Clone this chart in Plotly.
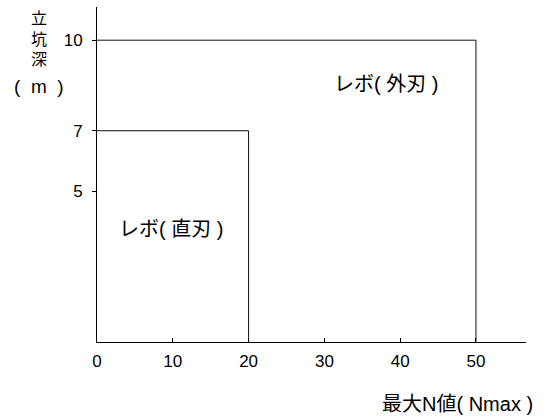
import plotly.graph_objects as go

# Data
methods = ["レボ( 直刃 )", "レボ( 外刃 )"]
max_n = [20, 50]          # 最大N値 (Nmax)
max_depth = [7, 10]       # 立坑深 (m)
label_x = [9.76, 38.1]
label_y = [3.74, 8.55]
x_ticks = [0, 10, 20, 30, 40, 50]
y_ticks = [5, 7, 10]
y_title_chars = ["立", "坑", "深"]

FONT = "Liberation Sans, Arial, Noto Sans CJK JP"

# plot area in pixels (for placing outside texts)
L, R, T, B = 97, 526, 7, 342


def px_x(p):
    return (p - L) / (R - L)


def px_y(p):
    return (B - p) / (B - T)


fig = go.Figure()
for n, d in zip(max_n, max_depth):
    fig.add_trace(go.Scatter(
        x=[0, n, n], y=[d, d, 0], mode="lines",
        line=dict(color="#111111", width=1), showlegend=False, hoverinfo="skip"))

for name, lx, ly in zip(methods, label_x, label_y):
    fig.add_annotation(x=lx, y=ly, xref="x", yref="y", text=name, showarrow=False,
                       font=dict(family=FONT, size=20, color="black"))

fig.add_annotation(x=px_x(535), y=px_y(404), xref="paper", yref="paper",
                   text="最大N値( Nmax )", showarrow=False,
                   xanchor="right", yanchor="middle",
                   font=dict(family=FONT, size=20, color="black"))

for ch, cy in zip(y_title_chars, [18, 39, 60]):
    fig.add_annotation(x=px_x(38.5), y=px_y(cy), xref="paper", yref="paper",
                       text=ch, showarrow=False, xanchor="center", yanchor="middle",
                       font=dict(family=FONT, size=16, color="black"))
fig.add_annotation(x=px_x(38.5), y=px_y(86), xref="paper", yref="paper",
                   text="(  m  )", showarrow=False, xanchor="center", yanchor="middle",
                   font=dict(family=FONT, size=19, color="black"))

fig.update_layout(
    width=549, height=420,
    margin=dict(l=L, r=549 - R, t=T, b=420 - B),
    paper_bgcolor="white", plot_bgcolor="white",
    font=dict(family=FONT, size=17, color="black"),
)

fig.update_xaxes(range=[0, 56.6], tickvals=x_ticks, ticks="inside", ticklen=4,
                 tickcolor="black", showline=True, linecolor="black", linewidth=1,
                 showgrid=False, zeroline=False, tickfont=dict(size=17),
                 ticklabelstandoff=4)
fig.update_yaxes(range=[0, 11.1], tickvals=y_ticks, ticks="outside", ticklen=4,
                 tickcolor="black", showline=True, linecolor="black", linewidth=1,
                 showgrid=False, zeroline=False, tickfont=dict(size=17),
                 ticklabelstandoff=6)

fig.write_html("out.html", config={"displayModeBar": False},
               post_script="document.body.style.margin='0';")
